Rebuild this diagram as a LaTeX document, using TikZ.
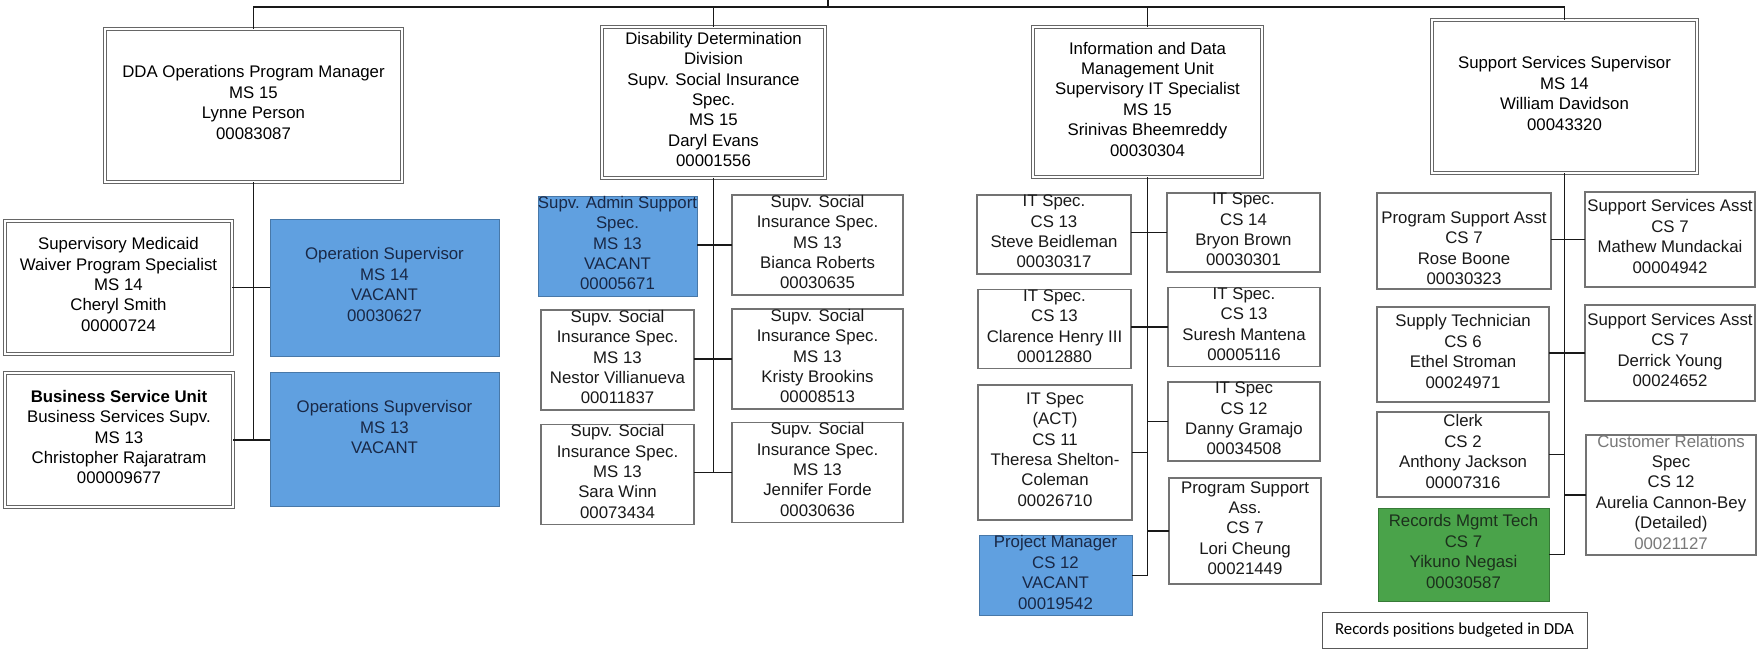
\documentclass[tikz,border=0pt]{standalone}
\usepackage{fontspec}
\setmainfont{Liberation Sans}
\newfontfamily\calibfont{Carlito}
\definecolor{vblue}{RGB}{96,160,224}
\definecolor{vtext}{RGB}{25,40,70}
\definecolor{vgreen}{RGB}{74,163,74}
\definecolor{gtext}{RGB}{28,48,28}
\definecolor{fade}{RGB}{120,120,120}
\newcommand\orgbox[7]{%
  \pgfmathsetmacro\obWd{#5-#3}\pgfmathsetmacro\obHt{#6-#4}%
  \pgfmathsetmacro\obCx{(#3+#5)/2}\pgfmathsetmacro\obCy{(#4+#6)/2}%
  \node[#1, minimum width=\obWd pt, minimum height=\obHt pt] (#2) at (\obCx,\obCy) {#7};}
\tikzset{
  basetxt/.style={inner sep=0pt, outer sep=0pt, align=center,
    font=\fontsize{16.8}{20.4}\selectfont,
    execute at begin node=\strut, execute at end node=\strut},
  cbox/.style={basetxt, draw=black!55, line width=1.5pt, text=black!90},
  hbox/.style={basetxt, draw=black!60, line width=0.9pt, double=white, double distance=2.4pt, text=black},
  vacbox/.style={basetxt, fill=vblue, draw=vblue!75!black, line width=0.8pt, text=vtext},
  grnbox/.style={basetxt, fill=vgreen, draw=vgreen!75!black, line width=0.8pt, text=gtext},
  lbl/.style={basetxt},
  conn/.style={draw=black!90, line width=1.8pt},
  notebox/.style={draw=black!65, line width=1pt, inner sep=0pt, outer sep=0pt,
    font=\calibfont\fontsize{16.8}{20.4}\selectfont},
}
\begin{document}
\begin{tikzpicture}[x=1pt,y=-1pt]
\useasboundingbox (0,0) rectangle (1758,650);
\fill[white] (0,0) rectangle (1758,650);
% heads
\orgbox{hbox}{dda}{105}{29}{402}{182}{DDA Operations Program Manager\\MS 15\\Lynne Person\\00083087}
\orgbox{hbox}{ddd}{602}{27}{825}{178}{Disability Determination\\Division\\Supv. Social Insurance\\Spec.\\MS 15\\Daryl Evans\\00001556}
\orgbox{hbox}{idmu}{1033}{27}{1262}{177}{Information and Data\\Management Unit\\Supervisory IT Specialist\\MS 15\\Srinivas Bheemreddy\\00030304}
\orgbox{hbox}{sss}{1432}{20}{1697}{173}{Support Services Supervisor\\MS 14\\William Davidson\\00043320}
% DDA children
\orgbox{hbox}{med}{5}{221}{232}{354}{Supervisory Medicaid\\Waiver Program Specialist\\MS 14\\Cheryl Smith\\00000724}
\orgbox{vacbox}{op1}{270}{219}{499}{356}{Operation Supervisor\\MS 14\\VACANT\\00030627}
\orgbox{hbox}{bus}{5}{373}{233}{507}{\textbf{Business Service Unit}\\Business Services Supv.\\MS 13\\Christopher Rajaratram\\000009677}
\orgbox{vacbox}{op2}{270}{372}{499}{506}{}
\node[lbl, text=vtext] (op2t) at (384.5,430) {Operations Supvervisor\\MS 13\\VACANT};
% DDD children
\orgbox{vacbox}{adm}{541}{198}{694}{294}{Supv. Admin Support\\Spec.\\MS 13\\VACANT\\00005671}
\orgbox{cbox}{bia}{732}{197}{903}{293}{Supv. Social\\Insurance Spec.\\MS 13\\Bianca Roberts\\00030635}
\orgbox{cbox}{nes}{541}{312}{694}{408}{Supv. Social\\Insurance Spec.\\MS 13\\Nestor Villianueva\\00011837}
\orgbox{cbox}{kri}{732}{311}{903}{407}{Supv. Social\\Insurance Spec.\\MS 13\\Kristy Brookins\\00008513}
\orgbox{cbox}{sar}{541}{427}{694}{522}{Supv. Social\\Insurance Spec.\\MS 13\\Sara Winn\\00073434}
\orgbox{cbox}{jen}{732}{425}{903}{520}{Supv. Social\\Insurance Spec.\\MS 13\\Jennifer Forde\\00030636}
% IDMU children
\orgbox{cbox}{ste}{977}{196}{1131}{273}{IT Spec.\\CS 13\\Steve Beidleman\\00030317}
\orgbox{cbox}{bry}{1167}{194}{1320}{271}{IT Spec.\\CS 14\\Bryon Brown\\00030301}
\orgbox{cbox}{cla}{978}{291}{1131}{367}{IT Spec.\\CS 13\\Clarence Henry III\\00012880}
\orgbox{cbox}{sur}{1168}{289}{1320}{365}{IT Spec.\\CS 13\\Suresh Mantena\\00005116}
\orgbox{cbox}{act}{978}{385}{1132}{520}{IT Spec\\(ACT)\\CS 11\\Theresa Shelton-\\Coleman\\00026710}
\orgbox{cbox}{dan}{1168}{383}{1320}{460}{IT Spec\\CS 12\\Danny Gramajo\\00034508}
\orgbox{vacbox}{pma}{979}{537}{1132}{614}{Project Manager\\CS 12\\VACANT\\00019542}
\orgbox{cbox}{psa}{1169}{478}{1321}{584}{Program Support\\Ass.\\CS 7\\Lori Cheung\\00021449}
% SSS children
\orgbox{cbox}{pss}{1377}{193}{1551}{289}{}
\node[lbl, text=black!90] (psst) at (1464,251) {Program Support Asst\\CS 7\\Rose Boone\\00030323};
\orgbox{cbox}{mat}{1585}{192}{1755}{287}{Support Services Asst\\CS 7\\Mathew Mundackai\\00004942}
\orgbox{cbox}{sup}{1377}{307}{1549}{402}{Supply Technician\\CS 6\\Ethel Stroman\\00024971}
\orgbox{cbox}{der}{1585}{305}{1755}{401}{Support Services Asst\\CS 7\\Derrick Young\\00024652}
\orgbox{cbox}{cle}{1377}{412}{1549}{497}{Clerk\\CS 2\\Anthony Jackson\\00007316}
\orgbox{cbox}{cus}{1586}{438}{1756}{552}{{\color{fade}Customer Relations}\\Spec\\CS 12\\Aurelia Cannon-Bey\\(Detailed)\\{\color{fade}00021127}}
\orgbox{grnbox}{rec}{1378}{508}{1549}{601}{Records Mgmt Tech\\CS 7\\Yikuno Negasi\\00030587}
\orgbox{notebox}{note}{1322}{612}{1587}{648}{Records positions budgeted in DDA}
% top bar
\coordinate (bar) at (0,7);
\coordinate (up) at (828,0);
\draw[conn] (dda.north) -- (dda.north |- bar) -- (sss.north |- bar) -- (sss.north);
\draw[conn] (ddd.north) -- (ddd.north |- bar);
\draw[conn] (idmu.north) -- (idmu.north |- bar);
\draw[conn] (up) -- (up |- bar);
% DDA branch
\draw[conn] (dda.south) -- (dda.south |- bus.east);
\draw[conn] (med.east) -- (med.east -| op1.west);
\draw[conn] (bus.east) -- (bus.east -| op2.west);
% DDD branch
\draw[conn] (ddd.south) -- (ddd.south |- jen.west);
\draw[conn] (bia.west) -- (bia.west -| adm.east);
\draw[conn] (kri.west) -- (kri.west -| nes.east);
\draw[conn] (jen.west) -- (jen.west -| sar.east);
% IDMU branch
\draw[conn] (idmu.south) -- (idmu.south |- pma.east);
\draw[conn] (bry.west) -- (bry.west -| ste.east);
\draw[conn] (sur.west) -- (sur.west -| cla.east);
\draw[conn] (act.east) -- (act.east -| idmu.south);
\draw[conn] (dan.west) -- (dan.west -| idmu.south);
\draw[conn] (psa.west) -- (psa.west -| idmu.south);
\draw[conn] (pma.east) -- (pma.east -| idmu.south);
% SSS branch
\draw[conn] (sss.south) -- (sss.south |- rec.east);
\draw[conn] (mat.west) -- (mat.west -| pss.east);
\draw[conn] (der.west) -- (der.west -| sup.east);
\draw[conn] (cle.east) -- (cle.east -| sss.south);
\draw[conn] (cus.west) -- (cus.west -| sss.south);
\draw[conn] (rec.east) -- (rec.east -| sss.south);
\end{tikzpicture}
\end{document}
